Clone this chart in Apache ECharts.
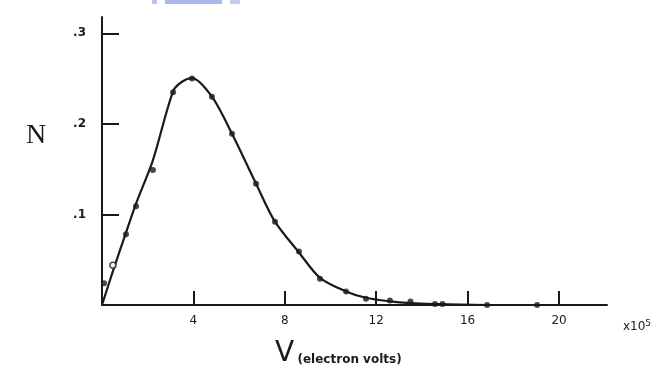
<!DOCTYPE html>
<html>
<head>
<meta charset="utf-8">
<script src="https://cdn.jsdelivr.net/npm/echarts@6/dist/echarts.min.js"></script>
<style>
html,body{margin:0;padding:0;background:#fff;}
#chart{width:662px;height:378px;}
</style>
</head>
<body>
<div id="chart"></div>
<script>
// Measured points (V in units of 10^5 eV, N)
const pointV = [0.09, 1.05, 1.49, 2.23, 3.11, 3.94, 4.81, 5.69, 6.74, 7.57, 8.62, 9.54, 10.68, 11.55, 12.6, 13.5, 14.57, 14.9, 16.85, 19.04];
const pointN = [0.024, 0.078, 0.109, 0.149, 0.235, 0.250, 0.230, 0.189, 0.134, 0.092, 0.059, 0.029, 0.015, 0.007, 0.005, 0.004, 0.001, 0.001, 0.0, 0.0];
// Open-circle point
const openV = [0.48];
const openN = [0.044];
// Drawn (fitted) curve: near-straight rise from the origin, rounded peak, long tail on the axis
const curveV = [0, 0.5, 1.05, 1.49, 2.23, 3.11, 3.5, 3.94, 4.81, 5.69, 6.74, 7.57, 8.62, 9.54, 10.68, 11.55, 12.6, 13.5, 14.57, 16.85, 19.04, 22.1];
const curveN = [0, 0.039, 0.080, 0.112, 0.160, 0.236, 0.2465, 0.2505, 0.230, 0.189, 0.134, 0.092, 0.058, 0.030, 0.015, 0.008, 0.004, 0.002, 0.001, 0.0, 0.0, 0.0];
// Tick labels
const xTicks = [4, 8, 12, 16, 20];
const yTicks = [0.1, 0.2, 0.3];
const yTickLabels = ['.1', '.2', '.3'];

const ink = '#1a1a1a';
const chart = echarts.init(document.getElementById('chart'));
chart.setOption({
  backgroundColor: '#fff',
  animation: false,
  grid: {left: 102, right: 55, top: 17, bottom: 73},
  xAxis: {
    type: 'value', min: 0, max: 22.1,
    axisLine: {lineStyle: {color: ink, width: 2}},
    axisTick: {inside: true, length: 14, customValues: xTicks, lineStyle: {color: ink, width: 2}},
    splitLine: {show: false},
    axisLabel: {
      color: ink, fontSize: 12, fontFamily: 'DejaVu Sans', margin: 10,
      customValues: xTicks,
      formatter: v => String(v)
    },
    name: 'x10{s|5}',
    nameLocation: 'end', nameGap: 16,
    nameTextStyle: {
      color: ink, fontSize: 12, fontFamily: 'DejaVu Sans', verticalAlign: 'top', padding: [14, 0, 0, 0],
      rich: {s: {fontSize: 9, verticalAlign: 'top', color: ink, padding: [0, 0, 6, 0]}}
    }
  },
  yAxis: {
    type: 'value', min: 0, max: 0.318,
    axisLine: {lineStyle: {color: ink, width: 2}},
    axisTick: {inside: true, length: 17, customValues: yTicks, lineStyle: {color: ink, width: 2}},
    splitLine: {show: false},
    axisLabel: {
      color: ink, fontSize: 12, fontFamily: 'DejaVu Sans', fontWeight: 'bold', margin: 16,
      customValues: yTicks,
      formatter: v => {
        const i = yTicks.findIndex(t => Math.abs(t - v) < 1e-6);
        return i >= 0 ? yTickLabels[i] : '';
      }
    }
  },
  graphic: [
    {type: 'rect', shape: {x: 152, y: 0, width: 5, height: 4}, style: {fill: '#b8c4ee'}},
    {type: 'rect', shape: {x: 165, y: 0, width: 57, height: 4}, style: {fill: '#aab8ee'}},
    {type: 'rect', shape: {x: 230, y: 0, width: 10, height: 4}, style: {fill: '#c4cdf0'}},
    {type: 'text', left: 26, top: 122, style: {text: 'N', font: '28px "Liberation Serif"', fill: ink}},
    {type: 'text', left: 275, top: 340, style: {
      text: '{v|V} {t|(electron volts)}',
      rich: {
        v: {font: '28px "DejaVu Sans"', fill: ink, verticalAlign: 'bottom'},
        t: {font: 'bold 12px "DejaVu Sans"', fill: ink, verticalAlign: 'bottom', padding: [0, 0, 2, 0]}
      }
    }}
  ],
  series: [
    {
      type: 'line', smooth: 0.3, symbol: 'none',
      lineStyle: {color: ink, width: 2.2},
      data: curveV.map((v, i) => [v, curveN[i]]),
      z: 2
    },
    {
      type: 'scatter', symbol: 'circle', symbolSize: 6,
      itemStyle: {color: ink},
      data: pointV.map((v, i) => [v, pointN[i]]),
      z: 3
    },
    {
      type: 'scatter', symbol: 'circle', symbolSize: 6,
      itemStyle: {color: '#fff', borderColor: ink, borderWidth: 1.5},
      data: openV.map((v, i) => [v, openN[i]]),
      z: 3
    }
  ]
});
</script>
</body>
</html>
